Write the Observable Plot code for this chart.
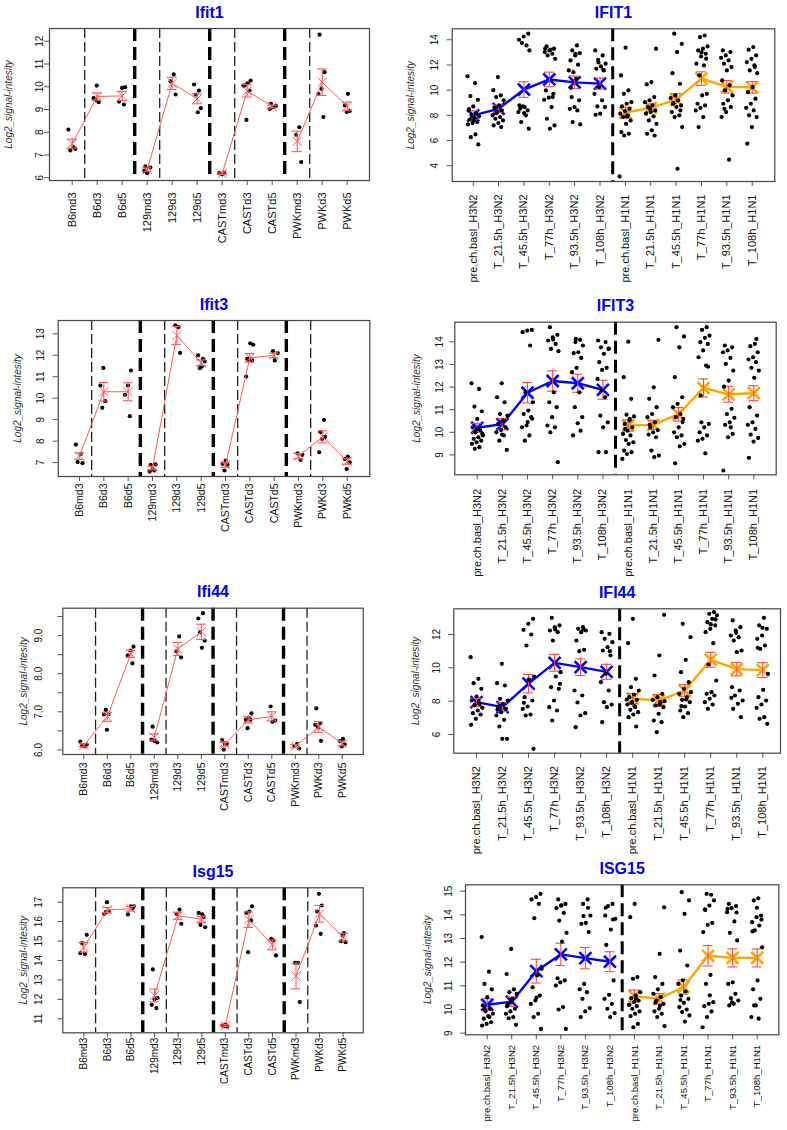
<!DOCTYPE html>
<html><head><meta charset="utf-8">
<script src="https://cdn.jsdelivr.net/npm/d3@7"></script>
<script src="https://cdn.jsdelivr.net/npm/@observablehq/plot@0.6"></script>
<style>
body{margin:0;background:#fff;}
#wrap{position:relative;width:787px;height:1130px;background:#fff;}
#wrap svg{position:absolute;overflow:visible !important;background:transparent !important;max-width:none !important;}
</style></head><body><div id="wrap"></div>
<script>
// ---------- categories ----------
const mouseLabels = ["B6md3","B6d3","B6d5","129md3","129d3","129d5","CASTmd3","CASTd3","CASTd5","PWKmd3","PWKd3","PWKd5"];
const humanLabels = ["pre.ch.basl_H3N2","T_21.5h_H3N2","T_45.5h_H3N2","T_77h_H3N2","T_93.5h_H3N2","T_108h_H3N2",
  "pre.ch.basl_H1N1","T_21.5h_H1N1","T_45.5h_H1N1","T_77h_H1N1","T_93.5h_H1N1","T_108h_H1N1"];

// ---------- mouse: Ifit1 ----------
const ifit1Points = [[8.12,7.35,7.2,7.27],[10.05,9.5,9.32,9.42],[9.98,9.95,9.35,9.22],[6.5,6.45,6.2,6.3],
  [10.54,10.24,9.66],[10.1,9.83,9.66,9.06,8.88],[6.15,6.2,6.22,6.17],[10.27,10.15,10.05,9.83,8.54,10.05],
  [9.25,9.15,9.1,9.02],[8.22,7.89,6.69],[12.29,10.64,9.91,9.69,8.67],[9.69,9.18,8.93,8.89]];
const ifit1Means = [7.5,9.57,9.6,6.36,10.15,9.47,6.18,9.82,9.13,7.6,10.2,9.14];
const ifit1SE = [0.2,0.16,0.2,0.07,0.27,0.22,0.03,0.27,0.06,0.45,0.58,0.19];

// ---------- mouse: Ifit3 ----------
const ifit3Points = [[7.84,7.4,7.02,6.97],[11.41,10.59,9.86,9.55],[11.29,10.59,10.16,9.16],[6.89,6.92,6.69,6.58,6.63],
  [13.31,13.39,12.11],[12.0,11.83,11.4,11.71,11.48],[7.09,6.94,6.9,6.63],[12.49,12.56,11.83,11.76,11.76,11.01],
  [12.19,12.1,11.76],[7.12,7.43,7.36],[8.41,8.2,8.1,7.48,8.99],[7.28,7.17,7.01,6.7]];
const ifit3Means = [7.3,10.3,10.3,6.74,12.92,11.65,6.88,11.88,12.0,7.3,8.2,7.06];
const ifit3SE = [0.15,0.43,0.42,0.07,0.42,0.13,0.1,0.2,0.1,0.12,0.28,0.14];

// ---------- mouse: Ifi44 ----------
const ifi44Points = [[6.22,6.09,6.11,6.14,6.13],[6.53,6.93,6.94,7.05],[8.71,8.61,8.48,8.27],[6.61,6.2,6.24,6.27],
  [8.98,8.59,8.43],[9.45,9.59,9.09,8.87,8.68],[6.17,6.26,6.16,6.01],[6.96,6.84,6.79,6.79,6.57],
  [7.14,6.77,6.74],[6.16,6.1,6.04],[7.09,6.24,6.59,6.66,6.7],[6.29,6.23,6.14,6.09]];
const ifi44Means = [6.12,6.87,8.52,6.33,8.65,9.1,6.15,6.79,6.88,6.1,6.6,6.17];
const ifi44SE = [0.04,0.12,0.09,0.09,0.17,0.2,0.05,0.08,0.12,0.04,0.14,0.06];

// ---------- mouse: Isg15 ----------
const isg15Points = [[14.38,14.34,14.89,15.32],[17.0,16.4,16.52,16.49],[16.79,16.78,16.37,16.69],[13.54,12.06,12.0,11.72,11.55],
  [16.62,16.4,15.89],[16.45,16.23,15.83,15.71,16.38],[10.7,10.65,10.6,10.62],[16.79,16.52,16.45,16.06,14.43],
  [15.11,14.26,15.03],[13.88,13.88,11.86],[16.52,16.83,17.43,15.8,15.37],[15.41,14.99,14.94,15.29]];
const isg15Means = [14.68,16.6,16.66,12.2,16.3,16.12,10.65,16.1,14.8,13.2,16.4,15.2];
const isg15SE = [0.25,0.13,0.12,0.33,0.18,0.16,0.04,0.4,0.25,0.66,0.43,0.2];

// ---------- human: IFIT1 ----------
const IFIT1Points = [
  [11.1,10.56,9.53,9.24,8.71,8.39,8.18,8.05,7.92,7.81,7.65,7.47,7.39,7.28,6.49,6.27,5.69,7.6,8.5],
  [11.04,10.0,9.58,9.45,9.19,8.79,8.6,8.39,8.26,8.0,7.86,7.73,7.6,7.39,7.2,7.07,8.18],
  [14.48,14.26,14.0,13.55,13.74,13.15,8.66,8.52,8.39,8.71,8.26,8.0,7.47,6.94,8.18,8.79],
  [13.47,13.29,13.15,13.02,12.89,12.76,12.49,13.21,9.98,9.71,9.4,9.24,8.66,7.73,7.2,6.94,13.3,9.45],
  [13.55,13.15,12.94,12.76,12.36,12.02,11.43,11.57,10.9,9.45,9.19,8.66,8.52,8.39,7.47,7.28,12.89,10.19],
  [13.15,12.76,12.41,12.1,11.88,11.7,11.57,10.24,9.71,9.19,8.71,8.66,8.13,8.05,11.62,12.2],
  [13.37,11.17,9.98,9.71,9.05,8.92,8.71,8.52,8.34,8.13,8.0,7.86,7.6,7.33,6.67,6.54,6.4,3.15,7.9],
  [13.29,10.64,10.46,9.45,9.19,9.05,8.79,8.66,8.39,8.26,8.13,7.92,7.6,7.33,6.81,6.54,6.4,8.52],
  [14.48,13.68,13.02,11.35,10.51,9.58,9.37,9.19,8.97,8.79,8.66,8.26,8.0,7.86,7.07,3.76,8.92,8.39],
  [14.34,14.21,13.47,13.29,13.15,12.89,12.68,12.1,11.96,11.17,9.71,9.58,8.92,8.79,8.6,8.39,7.86,7.07,12.5,13.0],
  [13.15,13.02,12.76,12.57,12.36,12.1,11.83,11.57,10.77,10.38,9.98,9.58,9.19,8.92,8.66,8.26,7.86,4.48,8.52],
  [13.42,13.21,12.76,12.49,12.23,11.96,11.57,11.35,10.24,9.85,9.32,8.92,8.6,8.39,8.0,7.86,7.07,5.75,11.83]];
const IFIT1Means = [8.0,8.52,10.05,10.85,10.62,10.52,8.22,8.6,9.25,10.92,10.27,10.22];
const IFIT1SE = [0.35,0.3,0.62,0.58,0.5,0.44,0.42,0.3,0.48,0.53,0.5,0.46];

// ---------- human: IFIT3 ----------
const IFIT3Points = [
  [12.17,11.92,11.14,10.93,10.59,10.22,10.1,10.0,9.86,9.78,9.71,9.63,9.56,9.49,9.34,9.27,9.93,10.15],
  [12.17,11.55,11.33,10.81,10.74,10.52,10.37,10.22,10.1,10.0,9.86,9.63,9.22,9.9],
  [14.53,14.5,14.43,13.84,11.77,11.33,10.96,10.81,10.67,10.3,10.22,9.86,9.63,10.6,10.45],
  [14.65,14.31,14.2,14.06,13.91,13.69,13.59,11.77,11.33,11.11,10.67,10.3,10.22,10.0,8.68,14.1],
  [14.09,13.99,13.84,13.54,13.5,13.29,12.85,12.66,11.77,11.11,10.67,10.4,9.86,10.07,14.13],
  [14.06,13.99,13.76,13.69,13.47,13.1,12.85,12.76,12.36,11.55,10.74,10.44,10.22,9.12,9.12,11.85,13.7],
  [14.01,12.44,11.48,10.78,10.7,10.52,10.37,10.22,10.07,9.93,9.86,9.66,9.56,9.49,9.19,9.12,9.04,8.82,10.6,10.15],
  [14.09,11.99,11.48,11.11,10.81,10.67,10.44,10.22,10.1,10.0,9.9,9.78,9.19,8.97,8.9,10.33],
  [14.65,14.24,13.76,12.44,11.55,11.26,11.11,10.81,10.67,10.59,10.22,10.0,9.86,9.78,9.49,9.38,8.63,10.45],
  [14.65,14.53,14.28,14.18,13.99,13.91,13.62,13.32,12.95,10.44,10.37,10.22,10.0,9.86,9.71,9.63,9.07,11.63,12.9],
  [13.84,13.76,13.62,13.54,13.29,13.03,12.73,12.29,12.02,11.04,10.81,10.64,10.44,10.33,9.93,9.78,8.31,10.22],
  [13.91,13.81,13.54,13.32,13.22,13.1,12.85,12.73,12.41,11.11,10.74,10.44,10.33,10.15,9.9,9.75,9.59,8.87,14.13]];
const IFIT3Means = [10.2,10.36,11.75,12.27,12.17,11.88,10.3,10.33,10.8,11.96,11.68,11.73];
const IFIT3SE = [0.2,0.25,0.45,0.45,0.4,0.42,0.25,0.2,0.3,0.4,0.35,0.33];

// ---------- human: IFI44 ----------
const IFI44Points = [
  [10.64,9.34,9.08,8.74,8.28,8.04,7.84,7.74,7.6,7.44,7.28,7.2,6.94,6.58,7.94],
  [10.24,9.08,8.94,8.14,8.04,7.84,7.68,7.54,7.34,7.14,6.88,6.48,5.74,5.74,7.5],
  [12.94,12.64,12.28,12.0,11.34,9.48,9.28,8.24,8.04,7.68,7.54,7.2,7.14,5.14,9.3,7.9],
  [13.0,12.54,12.44,12.24,12.14,11.64,9.74,9.48,8.84,8.74,8.04,7.64,7.44,6.84,9.04,12.3],
  [12.44,12.34,12.24,12.14,11.64,11.08,11.0,8.64,8.34,7.92,7.28,7.14,6.44,12.3],
  [12.14,12.04,11.74,11.54,11.24,11.04,10.74,9.64,9.14,8.64,7.94,7.8,7.64,6.74,11.0],
  [12.94,11.48,9.34,8.84,8.64,8.4,8.24,8.08,7.94,7.8,7.64,7.48,7.34,7.2,7.04,6.48,7.9,8.1,7.7],
  [13.18,10.74,9.54,8.44,8.24,8.08,7.94,7.74,7.64,7.24,6.84,6.74,6.14,8.0,7.8],
  [12.64,11.84,10.48,9.74,9.14,8.74,8.44,8.24,8.08,7.94,7.68,7.44,7.28,7.04,8.54,8.1,7.7],
  [13.34,13.24,13.14,12.94,12.74,12.54,12.34,12.14,11.48,10.2,9.24,8.54,8.44,8.34,8.14,7.94,7.8,7.54,12.9,12.6],
  [12.84,12.44,12.24,11.94,11.84,11.64,11.04,10.94,8.84,8.64,8.34,8.04,7.84,7.54,7.04,12.1,8.2],
  [13.0,12.54,12.34,11.94,11.74,11.34,11.14,9.64,8.68,8.24,8.04,7.8,7.6,7.04,6.94,6.64,12.4,11.2]];
const IFI44Means = [7.94,7.64,9.05,10.3,10.04,9.76,8.15,8.04,8.64,10.48,9.92,9.86];
const IFI44SE = [0.25,0.25,0.55,0.5,0.5,0.45,0.3,0.35,0.35,0.45,0.4,0.45];

// ---------- human: ISG15 ----------
const ISG15Points = [
  [13.06,11.6,11.08,10.85,10.52,10.17,10.03,9.92,9.82,9.72,9.61,9.46,9.39,9.32,9.68,10.0],
  [12.56,11.5,10.85,10.73,10.66,10.45,10.24,10.03,9.92,9.82,9.68,9.63,9.35,10.34,10.14],
  [14.89,14.75,14.65,14.46,13.86,11.72,11.44,10.94,10.59,10.38,10.24,9.82,9.68,9.18,10.5],
  [14.65,14.46,14.39,14.28,14.08,13.76,13.24,12.87,11.32,11.23,11.15,11.01,10.1,10.0,9.18,14.4],
  [14.65,14.46,13.97,13.66,13.62,13.27,11.08,10.85,10.73,10.45,10.06,9.92,9.68,14.3,13.95],
  [13.97,14.46,14.37,13.83,13.38,12.73,11.23,10.62,10.45,10.24,10.03,9.85,9.68,14.3,13.8],
  [14.46,13.9,11.37,11.3,10.73,10.59,10.48,10.38,10.31,10.2,10.14,10.03,9.92,9.82,9.72,9.39,9.25,10.2,10.45],
  [14.32,12.35,11.37,11.08,10.85,10.66,10.52,10.38,10.24,10.03,9.92,9.82,9.68,9.3,10.15,10.3],
  [14.96,14.61,14.04,12.49,11.86,11.23,11.08,10.76,10.59,10.45,10.28,10.1,10.0,9.89,9.75,9.49,10.4],
  [14.85,14.89,14.61,14.39,14.23,13.66,13.58,13.27,11.46,11.08,10.31,10.24,10.14,9.92,9.68,9.25,10.6,14.2],
  [14.46,14.37,14.28,14.11,13.72,13.24,12.92,11.15,11.08,10.66,10.48,10.38,10.24,10.17,14.1,10.3,14.25],
  [14.7,14.61,13.97,13.9,13.69,13.55,13.34,12.63,11.23,10.85,10.45,10.17,9.68,9.61,10.17,13.8,14.3,13.3]];
const ISG15Means = [10.2,10.33,11.62,12.33,12.17,12.02,10.57,10.45,10.95,12.27,12.18,12.18];
const ISG15SE = [0.25,0.2,0.5,0.47,0.45,0.42,0.25,0.22,0.3,0.43,0.38,0.38];

// ---------- tick values ----------
const ticksIfit1 = [6,7,8,9,10,11,12];
const ticksIFIT1 = [4,6,8,10,12,14];
const ticksIfit3 = [7,8,9,10,11,12,13];
const ticksIFIT3 = [9,10,11,12,13,14];
const ticksIfi44 = [6,6.5,7,7.5,8,8.5,9,9.5];
const ticksIFI44 = [6,8,10,12];
const ticksIsg15 = [11,12,13,14,15,16,17];
const ticksISG15 = [9,10,11,12,13,14,15];

// ---------- layout (page px) ----------
const FONT = '"Liberation Sans", Arial, Helvetica, sans-serif';
const panels = [
  {title:"Ifit1", human:false, pts:ifit1Points, means:ifit1Means, se:ifit1SE, yticks:ticksIfit1,
   box:[0,0,390,285], frame:[49,369,28,180], xdom:[0.092,12.892], ydom:[5.88,12.56], ylabOff:9.5, xlabOff:12, xlabSize:11, ytitleX:8.5},
  {title:"IFIT1", human:true, pts:IFIT1Points, means:IFIT1Means, se:IFIT1SE, yticks:ticksIFIT1,
   box:[390,0,397,285], frame:[451.7,774.3,28.3,181], xdom:[0.172,12.891], ydom:[2.75,14.87], ylabOff:17.5, xlabOff:13, xlabSize:11, ytitleX:410},
  {title:"Ifit3", human:false, pts:ifit3Points, means:ifit3Means, se:ifit3SE, yticks:ticksIfit3,
   box:[0,285,390,275], frame:[57.7,369.3,320,476], xdom:[0.125,12.93], ydom:[6.35,13.62], ylabOff:17.4, xlabOff:7, xlabSize:10.5, ytitleX:17.3},
  {title:"IFIT3", human:true, pts:IFIT3Points, means:IFIT3Means, se:IFIT3SE, yticks:ticksIFIT3,
   box:[390,285,397,275], frame:[454.3,775.7,321.7,474.3], xdom:[0.109,12.89], ydom:[8.12,14.87], ylabOff:15.5, xlabOff:14, xlabSize:11, ytitleX:416.7},
  {title:"Ifi44", human:false, pts:ifi44Points, means:ifi44Means, se:ifi44SE, yticks:ticksIfi44, fmt:d => Number.isInteger(d) ? d.toFixed(1) : "",
   box:[0,560,390,275], frame:[62.3,362.7,607.7,754], xdom:[0.106,12.89], ydom:[5.88,9.72], ylabOff:24, xlabOff:8, xlabSize:10.5, ytitleX:23.3},
  {title:"IFI44", human:true, pts:IFI44Points, means:IFI44Means, se:IFI44SE, yticks:ticksIFI44,
   box:[390,560,397,275], frame:[453.3,780,608.3,752.7], xdom:[0.128,12.68], ydom:[4.88,13.54], ylabOff:16.7, xlabOff:13, xlabSize:11, ytitleX:415},
  {title:"Isg15", human:false, pts:isg15Points, means:isg15Means, se:isg15SE, yticks:ticksIsg15,
   box:[0,835,390,295], frame:[62.3,362.7,887.3,1032.3], xdom:[0.109,12.85], ydom:[10.28,17.74], ylabOff:24, xlabOff:5, xlabSize:10, ytitleX:23.3},
  {title:"ISG15", human:true, pts:ISG15Points, means:ISG15Means, se:ISG15SE, yticks:ticksISG15,
   box:[390,835,397,295], frame:[465,778.3,884.3,1034.3], xdom:[0.116,12.88], ydom:[8.93,15.27], ylabOff:17, xlabOff:10, xlabSize:9.6, ytitleX:427.7}
];

function draw(p) {
  const [left, top, w, h] = p.box;
  const [fl, fr, ft, fb] = p.frame;
  const human = p.human;
  const labels = human ? humanLabels : mouseLabels;
  const rows = [];
  p.pts.forEach((vals, gi) => vals.forEach((v, k) => rows.push({g: gi + 1, v, k})));
  const J = human ? 0.24 : 0.16;
  const jx = d => d.g + ((((d.k + 1) * 0.6180339887 + d.g * 0.4142) % 1) - 0.5) * 2 * J;
  const stats = p.means.map((m, i) => ({g: i + 1, m, lo: m - p.se[i], hi: m + p.se[i], z: human ? (i < 6 ? 0 : 1) : Math.floor(i / 3)}));
  const cap = 0.2;
  const fmt = p.fmt || (d => String(d));
  const errCol = human ? "#ff4545" : "#ff5a5a";
  const errMarks = [
    Plot.ruleX(stats, {x: "g", y1: "lo", y2: "hi", stroke: errCol, strokeWidth: 1.1}),
    Plot.ruleY(stats, {y: "lo", x1: d => d.g - cap, x2: d => d.g + cap, stroke: errCol, strokeWidth: 1.1}),
    Plot.ruleY(stats, {y: "hi", x1: d => d.g - cap, x2: d => d.g + cap, stroke: errCol, strokeWidth: 1.1})
  ];
  const dots = Plot.dot(rows, {x: jx, y: "v", r: 2.1, fill: "#000", stroke: "none"});
  let marks = [];
  if (human) {
    const s1 = stats.filter(d => d.z === 0), s2 = stats.filter(d => d.z === 1);
    marks = [
      Plot.ruleX([6.5], {stroke: "#000", strokeWidth: 3, strokeDasharray: "13,6", strokeLinecap: "butt"}),
      Plot.line(s1, {x: "g", y: "m", stroke: "#0000ff", strokeWidth: 2.4}),
      Plot.line(s2, {x: "g", y: "m", stroke: "#ffa500", strokeWidth: 2.4}),
      Plot.dot(s1, {x: "g", y: "m", symbol: "times", r: 5.5, stroke: "#0000ff", strokeWidth: 2.6}),
      Plot.dot(s2, {x: "g", y: "m", symbol: "times", r: 5.5, stroke: "#ffa500", strokeWidth: 2.6}),
      ...errMarks,
      dots
    ];
  } else {
    marks = [
      Plot.ruleX([1.5, 4.5, 7.5, 10.5], {stroke: "#222", strokeWidth: 1.3, strokeDasharray: "10,4", strokeLinecap: "butt"}),
      Plot.ruleX([3.5, 6.5, 9.5], {stroke: "#000", strokeWidth: 3.4, strokeDasharray: "13,6", strokeLinecap: "butt"}),
      dots,
      Plot.line(stats, {x: "g", y: "m", z: "z", stroke: "#ff5a5a", strokeWidth: 1}),
      ...errMarks,
      Plot.dot(stats, {x: "g", y: "m", symbol: "times", r: 4.2, stroke: "#ff5a5a", strokeWidth: 1})
    ];
  }
  marks.push(
    Plot.axisX(d3.range(1, 13), {tickSize: 5, tickFormat: () => "", label: null, stroke: "#555"}),
    Plot.axisY(p.yticks, {tickSize: 5, tickFormat: () => "", label: null, stroke: "#555"}),
    Plot.text(labels, {x: (d, i) => i + 1, frameAnchor: "bottom", dy: p.xlabOff, rotate: -90, textAnchor: "end", lineAnchor: "middle", fontSize: p.xlabSize, fill: "#111"}),
    Plot.text(p.yticks, {y: d => d, text: d => fmt(d), frameAnchor: "left", dx: -p.ylabOff, rotate: -90, textAnchor: "middle", lineAnchor: "middle", fontSize: 10, fill: "#111"}),
    Plot.text(["Log2_signal-intesity"], {frameAnchor: "left", dx: p.ytitleX - fl, rotate: -90, textAnchor: "middle", lineAnchor: "middle", fontStyle: "italic", fontSize: 10, fill: "#333"}),
    Plot.text([p.title], {frameAnchor: "top", dy: -16, lineAnchor: "middle", fontWeight: "bold", fontSize: 16, fill: "#0000ff"}),
    Plot.frame({stroke: "#444", strokeWidth: 1.2})
  );
  const svg = Plot.plot({
    width: w, height: h,
    marginLeft: fl - left, marginRight: left + w - fr,
    marginTop: ft - top, marginBottom: top + h - fb,
    x: {type: "linear", domain: p.xdom},
    y: {type: "linear", domain: p.ydom},
    style: {fontFamily: FONT, background: "transparent", overflow: "visible"},
    marks
  });
  svg.style.left = left + "px";
  svg.style.top = top + "px";
  document.getElementById("wrap").appendChild(svg);
}
panels.forEach(draw);
</script></body></html>
